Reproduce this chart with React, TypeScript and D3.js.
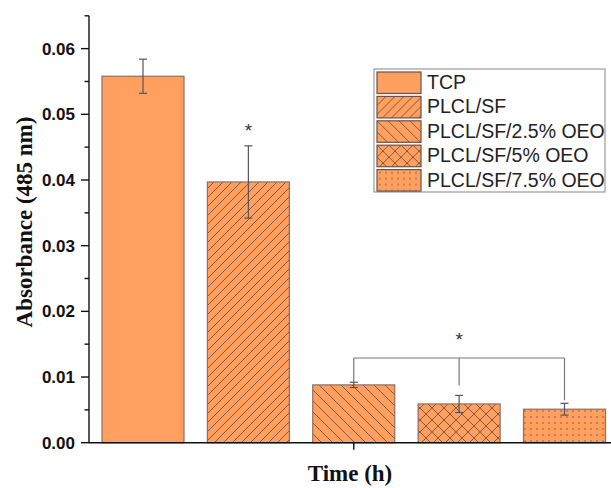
import React from 'react';
import * as d3 from 'd3';

const groups = ['TCP', 'PLCL/SF', 'PLCL/SF/2.5% OEO', 'PLCL/SF/5% OEO', 'PLCL/SF/7.5% OEO'];
const means = [0.0558, 0.0397, 0.0088, 0.0059, 0.0051];
const errors = [0.0026, 0.0055, 0.0004, 0.0013, 0.0009];
const patterns = ['none', 'fwd', 'back', 'cross', 'dots'];
const yTicks = [0, 0.01, 0.02, 0.03, 0.04, 0.05, 0.06];
const yMinor = [0.005, 0.015, 0.025, 0.035, 0.045, 0.055, 0.065];

const W = 611;
const H = 488;
const FILL = '#ffa060';
const EDGE = '#8d6e62';
const HATCH = '#6e4330';

const App = () => {
  const y = d3.scaleLinear().domain([0, 0.065]).range([442.7, 15.8]);
  const x = d3.scalePoint<string>().domain(groups).range([143, 564.5]);
  const barW = 82;
  const axisX = 89;
  const fmt = d3.format('.2f');

  const fillOf = (p: string) => (p === 'none' ? FILL : `url(#pat-${p})`);

  // significance bracket over the three OEO groups
  const bracketY = y(0.0129);
  const drops = [
    { g: groups[2], to: y(means[2] + errors[2]) },
    { g: groups[3], to: y(means[3] + errors[3]) - 10 },
    { g: groups[4], to: y(means[4] + errors[4]) - 3 },
  ];

  const legX = 374;
  const legY = 69;
  const rowH = 24.4;

  return (
    <svg width={W} height={H} style={{ position: 'absolute', left: 0, top: 0 }}>
      <defs>
        <pattern id="pat-fwd" patternUnits="userSpaceOnUse" width="9" height="9">
          <rect width="9" height="9" fill={FILL} />
          <path d="M-2,2 l4,-4 M0,9 l9,-9 M7,11 l4,-4" stroke={HATCH} strokeWidth="0.8" />
        </pattern>
        <pattern id="pat-back" patternUnits="userSpaceOnUse" width="11" height="11">
          <rect width="11" height="11" fill={FILL} />
          <path d="M-2,9 l4,4 M0,0 l11,11 M9,-2 l4,4" stroke={HATCH} strokeWidth="0.8" />
        </pattern>
        <pattern id="pat-cross" patternUnits="userSpaceOnUse" width="12" height="12">
          <rect width="12" height="12" fill={FILL} />
          <path d="M0,0 l12,12 M-2,10 l4,4 M10,-2 l4,4 M0,12 l12,-12 M-2,2 l4,-4 M10,14 l4,-4" stroke={HATCH} strokeWidth="0.8" />
        </pattern>
        <pattern id="pat-dots" patternUnits="userSpaceOnUse" width="6" height="6">
          <rect width="6" height="6" fill={FILL} />
          <circle cx="3" cy="3" r="0.65" fill={HATCH} />
        </pattern>
      </defs>

      {/* bars */}
      {groups.map((g, i) => (
        <rect
          key={g}
          x={(x(g) as number) - barW / 2}
          y={y(means[i])}
          width={barW}
          height={y(0) - y(means[i])}
          fill={fillOf(patterns[i])}
          stroke={EDGE}
          strokeWidth={1.2}
        />
      ))}

      {/* error bars */}
      {groups.map((g, i) => {
        const cx = x(g) as number;
        const t = y(means[i] + errors[i]);
        const b = y(means[i] - errors[i]);
        return (
          <g key={g} stroke="#555" strokeWidth={1.2}>
            <line x1={cx} x2={cx} y1={t} y2={b} />
            <line x1={cx - 4} x2={cx + 4} y1={t} y2={t} />
            <line x1={cx - 4} x2={cx + 4} y1={b} y2={b} />
          </g>
        );
      })}

      {/* significance */}
      <g stroke="#777" strokeWidth={1.2} fill="none">
        <line x1={x(groups[2])} x2={x(groups[4])} y1={bracketY} y2={bracketY} />
        {drops.map((d) => (
          <line key={d.g} x1={x(d.g)} x2={x(d.g)} y1={bracketY} y2={d.to} />
        ))}
      </g>
      <text x={x(groups[3])} y={bracketY - 12} textAnchor="middle" fontFamily="Liberation Sans, Arial" fontSize="19" fill="#333">*</text>
      <text x={x(groups[1])} y={y(means[1] + errors[1]) - 9} textAnchor="middle" fontFamily="Liberation Sans, Arial" fontSize="19" fill="#333">*</text>

      {/* y axis */}
      <line x1={axisX} x2={axisX} y1={y(0.065)} y2={y(0)} stroke="#111" strokeWidth={1.4} />
      {yTicks.map((t) => (
        <g key={t}>
          <line x1={axisX - 8} x2={axisX} y1={y(t)} y2={y(t)} stroke="#111" strokeWidth={1.4} />
          <text
            x={axisX - 14}
            y={y(t)}
            dy="0.36em"
            textAnchor="end"
            fontFamily="Liberation Sans, Arial"
            fontWeight="bold"
            fontSize="17"
            fill="#111"
          >
            {fmt(t)}
          </text>
        </g>
      ))}
      {yMinor.map((t) => (
        <line key={t} x1={axisX - 4.5} x2={axisX} y1={y(t)} y2={y(t)} stroke="#111" strokeWidth={1.4} />
      ))}

      {/* x axis */}
      <line x1={axisX} x2={W} y1={y(0)} y2={y(0)} stroke="#111" strokeWidth={1.4} />
      <line x1={x(groups[2])} x2={x(groups[2])} y1={y(0)} y2={y(0) + 7} stroke="#111" strokeWidth={1.4} />

      {/* axis titles */}
      <text x={350} y={481} textAnchor="middle" fontFamily="Liberation Serif, Times New Roman" fontWeight="bold" fontSize="23" fill="#111">
        Time (h)
      </text>
      <text
        transform="translate(32,222) rotate(-90)"
        textAnchor="middle"
        fontFamily="Liberation Serif, Times New Roman"
        fontWeight="bold"
        fontSize="23"
        fill="#111"
      >
        Absorbance (485 nm)
      </text>

      {/* legend */}
      <rect x={legX} y={legY} width={231} height={123} fill="#fff" stroke="#999" strokeWidth={1.2} />
      {groups.map((g, i) => (
        <g key={g} transform={`translate(${legX + 3},${legY + 3 + i * rowH})`}>
          <rect width={44} height={21.5} fill={fillOf(patterns[i])} stroke="#6a5148" strokeWidth={1.2} />
          <text x={50} y={17} fontFamily="Liberation Sans, Arial" fontSize="19.5" fill="#222">
            {g}
          </text>
        </g>
      ))}
    </svg>
  );
};

export default App;
